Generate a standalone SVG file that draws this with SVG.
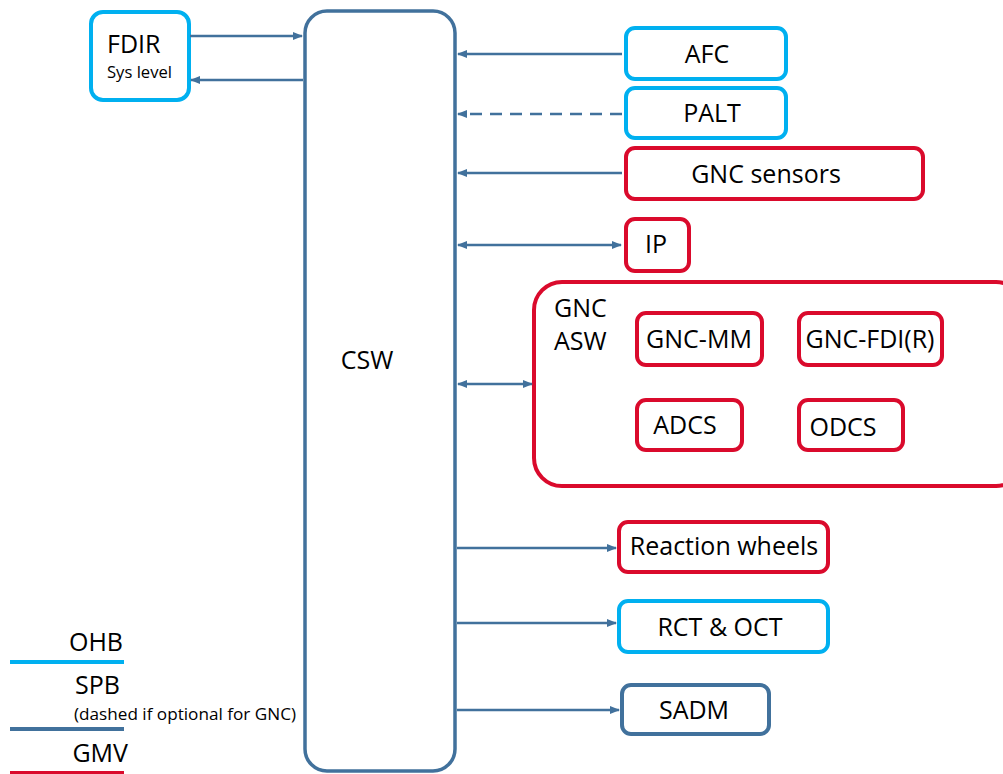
<svg xmlns="http://www.w3.org/2000/svg" width="1003" height="774" viewBox="0 0 1003 774">
<style>
text{font-family:"Open Sans","Noto Sans",sans-serif;fill:#000;font-size:25px}
text.s16{font-size:17px}
text.s15{font-size:17px}
.ohb{fill:#fff;stroke:#00B0F0;stroke-width:4}
.gmv{fill:#fff;stroke:#DA0A2C;stroke-width:4}
.spb{fill:#fff;stroke:#41719C;stroke-width:4}
.c{text-anchor:middle}
.e{text-anchor:end}
.con line{stroke:#41719C;stroke-width:2.5}
</style>
<defs>
<marker id="ah" viewBox="0 0 10 10" refX="9" refY="5" markerWidth="10" markerHeight="10" markerUnits="userSpaceOnUse" orient="auto-start-reverse">
<path d="M0,1 L10,5 L0,9 Z" fill="#41719C"/>
</marker>
</defs>
<rect width="1003" height="774" fill="#fff"/>
<g id="csw"><rect class="spb" x="305" y="11" width="150" height="760" rx="22" style="stroke-width:3.5"/><text class="c" x="367" y="369">CSW</text></g>
<g id="fdir"><rect class="ohb" x="91" y="12" width="98" height="88" rx="12"/><text x="107" y="53">FDIR</text><text class="s16" x="107" y="78" textLength="65" lengthAdjust="spacingAndGlyphs">Sys level</text></g>
<g id="afc"><rect class="ohb" x="626" y="28" width="160" height="51" rx="9"/><text class="c" x="707" y="63">AFC</text></g>
<g id="palt"><rect class="ohb" x="626" y="88" width="160" height="50" rx="9"/><text class="c" x="712" y="122">PALT</text></g>
<g id="gncs"><rect class="gmv" x="626" y="148" width="297" height="51" rx="9"/><text class="c" x="766" y="183">GNC sensors</text></g>
<g id="ip"><rect class="gmv" x="626" y="219" width="63" height="52" rx="9"/><text class="c" x="656" y="253">IP</text></g>
<g id="gncasw"><rect class="gmv" x="534" y="282" width="490" height="204" rx="28"/><text x="554" y="317">GNC</text><text x="554" y="350">ASW</text>
<g id="gncmm"><rect class="gmv" x="637" y="313" width="125" height="52" rx="9"/><text class="c" x="699" y="348">GNC-MM</text></g>
<g id="gncfdir"><rect class="gmv" x="799" y="313" width="143" height="52" rx="9"/><text class="c" x="870" y="348">GNC-FDI(R)</text></g>
<g id="adcs"><rect class="gmv" x="637" y="400" width="105" height="50" rx="9"/><text class="c" x="685" y="434">ADCS</text></g>
<g id="odcs"><rect class="gmv" x="799" y="400" width="104" height="50" rx="9"/><text class="c" x="843" y="436">ODCS</text></g>
</g>
<g id="rw"><rect class="gmv" x="619" y="522" width="209" height="50" rx="9"/><text class="c" x="724" y="555">Reaction wheels</text></g>
<g id="rct"><rect class="ohb" x="619" y="601" width="209" height="51" rx="9"/><text class="c" x="720" y="636">RCT &amp; OCT</text></g>
<g id="sadm"><rect class="spb" x="622" y="685" width="147" height="49" rx="9"/><text class="c" x="694" y="719">SADM</text></g>
<g id="connectors" class="con">
<line x1="190" y1="36" x2="302" y2="36" marker-end="url(#ah)"/>
<line x1="303" y1="80" x2="191" y2="80" marker-end="url(#ah)"/>
<line x1="622" y1="54" x2="458" y2="54" marker-end="url(#ah)"/>
<line x1="622" y1="114" x2="458" y2="114" stroke-dasharray="12,8" marker-end="url(#ah)"/>
<line x1="622" y1="173" x2="458" y2="173" marker-end="url(#ah)"/>
<line x1="458" y1="245" x2="621" y2="245" marker-start="url(#ah)" marker-end="url(#ah)"/>
<line x1="458" y1="384" x2="532" y2="384" marker-start="url(#ah)" marker-end="url(#ah)"/>
<line x1="457" y1="548" x2="616" y2="548" marker-end="url(#ah)"/>
<line x1="457" y1="623" x2="616" y2="623" marker-end="url(#ah)"/>
<line x1="457" y1="710" x2="619" y2="710" marker-end="url(#ah)"/>
</g>
<g id="legend">
<text class="e" x="123" y="651">OHB</text>
<line x1="10" y1="662" x2="124" y2="662" stroke="#00B0F0" stroke-width="4"/>
<text class="e" x="120" y="694">SPB</text>
<text class="s15" x="74" y="720" textLength="222" lengthAdjust="spacingAndGlyphs">(dashed if optional for GNC)</text>
<line x1="10" y1="729" x2="124" y2="729" stroke="#41719C" stroke-width="4"/>
<text class="e" x="128" y="762">GMV</text>
<line x1="10" y1="773" x2="124" y2="773" stroke="#DA0A2C" stroke-width="4"/>
</g>
</svg>
